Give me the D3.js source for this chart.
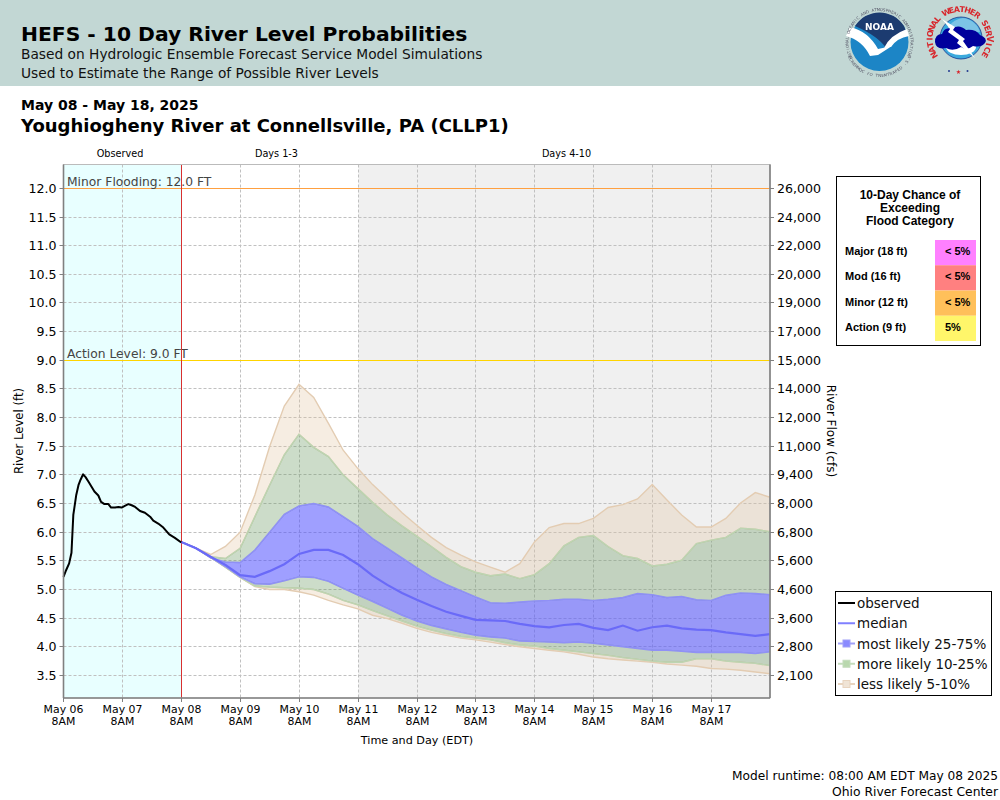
<!DOCTYPE html>
<html><head><meta charset="utf-8">
<script src="https://cdnjs.cloudflare.com/ajax/libs/d3/7.8.5/d3.min.js"></script>
<style>html,body{margin:0;padding:0;background:#fff}svg{display:block}text{font-family:"DejaVu Sans",sans-serif}</style>
</head><body><div id="c"></div>
<script>
const levelTicks=[12,11.5,11,10.5,10,9.5,9,8.5,8,7.5,7,6.5,6,5.5,5,4.5,4,3.5];
const flowLabels=["26,000","24,000","22,000","20,000","19,000","17,000","15,000","14,000","12,000","11,000","9,400","8,000","6,800","5,600","4,600","3,600","2,800","2,100"];
const dayLabels=["May 06","May 07","May 08","May 09","May 10","May 11","May 12","May 13","May 14","May 15","May 16","May 17"];
const dayHours=[0,24,48,72,96,120,144,168,192,216,240,264];
const obsHours=[0,1.1,2.3,3.25,4,5.2,6.1,7,8,9,10.2,11.5,12.6,14.2,15.3,16.7,18.3,19.4,21,22.4,23.7,25,26.4,27.8,29.2,31.2,33.2,35.3,36.6,38.6,40.7,43.1,45.4,48];
const obsLevels=[5.22,5.34,5.455,5.64,6.30,6.65,6.82,6.92,7.01,6.96,6.88,6.79,6.71,6.64,6.53,6.49,6.49,6.43,6.43,6.44,6.43,6.46,6.49,6.47,6.44,6.37,6.34,6.27,6.2,6.15,6.08,5.96,5.90,5.82];
const fcstHours=[48,54,60,66,72,78,84,90,96,102,108,114,120,126,132,138,144,150,156,162,168,174,180,186,192,198,204,210,216,222,228,234,240,246,252,258,264,270,276,282,288];
const lessHigh=[5.83,5.72,5.61,5.75,6.0,6.65,7.49,8.2,8.58,8.35,7.9,7.43,7.11,6.83,6.59,6.34,6.12,5.91,5.73,5.60,5.48,5.39,5.30,5.45,5.83,6.08,6.15,6.15,6.24,6.43,6.48,6.58,6.83,6.56,6.30,6.09,6.09,6.24,6.51,6.69,6.61];
const moreHigh=[5.83,5.72,5.57,5.54,5.72,6.27,6.82,7.35,7.71,7.48,7.32,7.0,6.76,6.52,6.30,6.11,5.93,5.75,5.56,5.40,5.30,5.24,5.27,5.19,5.26,5.45,5.76,5.91,5.94,5.75,5.59,5.54,5.41,5.44,5.51,5.80,5.86,5.91,6.07,6.05,6.01];
const likelyHigh=[5.83,5.72,5.55,5.48,5.47,5.69,6.0,6.31,6.46,6.50,6.44,6.27,6.10,5.89,5.72,5.55,5.38,5.22,5.09,4.98,4.87,4.77,4.76,4.78,4.80,4.81,4.83,4.83,4.81,4.83,4.86,4.93,4.91,4.86,4.88,4.82,4.81,4.90,4.94,4.93,4.91];
const median=[5.83,5.72,5.57,5.43,5.25,5.22,5.32,5.44,5.62,5.69,5.69,5.60,5.44,5.24,5.08,4.94,4.82,4.71,4.61,4.54,4.47,4.46,4.45,4.40,4.36,4.34,4.38,4.40,4.33,4.29,4.37,4.28,4.34,4.37,4.32,4.30,4.29,4.25,4.22,4.19,4.22];
const likelyLow=[5.83,5.72,5.56,5.40,5.22,5.10,5.09,5.15,5.22,5.21,5.14,5.02,4.90,4.79,4.67,4.55,4.45,4.37,4.31,4.25,4.20,4.17,4.15,4.10,4.09,4.08,4.07,4.08,4.06,4.03,4.0,3.97,3.94,3.94,3.92,3.90,3.90,3.90,3.90,3.88,3.91];
const moreLow=[5.83,5.72,5.56,5.39,5.21,5.06,5.04,5.03,5.02,5.0,4.92,4.81,4.73,4.63,4.54,4.45,4.36,4.29,4.23,4.18,4.15,4.12,4.07,4.03,4.01,3.97,3.94,3.91,3.88,3.85,3.81,3.78,3.75,3.73,3.73,3.79,3.79,3.75,3.73,3.71,3.67];
const lessLow=[5.83,5.72,5.56,5.39,5.21,5.05,5.0,5.0,4.96,4.90,4.81,4.73,4.66,4.55,4.49,4.41,4.32,4.25,4.20,4.15,4.12,4.08,4.04,4.00,3.97,3.94,3.91,3.87,3.82,3.79,3.77,3.75,3.73,3.70,3.68,3.66,3.62,3.61,3.59,3.56,3.53];
const chanceRows=["Major (18 ft)","Mod (16 ft)","Minor (12 ft)","Action (9 ft)"];
const chanceVals=["< 5%","< 5%","< 5%","5%"];
const chanceCols=["#ff80ff","#ff8080","#ffc05a","#fff66a"];
const legendNames=["observed","median","most likely 25-75%","more likely 10-25%","less likely 5-10%"];

const svg=d3.select("#c").append("svg").attr("width",1000).attr("height",800);
const L=63.5,R=770,T=164.5,B=698;
const x=d3.scaleLinear().domain([0,288]).range([L,R]);
const y=d3.scaleLinear().domain([3.5,12]).range([675.4,188.4]);
const cx=v=>Math.floor(x(v)+.3)+.5, cy=v=>Math.floor(y(v))+.5;

svg.append("rect").attr("width",1000).attr("height",86).attr("fill","#c2d7d4");
const txt=(t,xx,yy,size,o={})=>svg.append("text").attr("x",xx).attr("y",yy).attr("font-size",size)
  .attr("font-weight",o.w||"normal").attr("fill",o.c||"#000").attr("text-anchor",o.a||"start")
  .style("font-family",o.f||null).text(t);
txt("HEFS - 10 Day River Level Probabilities",21,41,20.3,{w:"bold"});
txt("Based on Hydrologic Ensemble Forecast Service Model Simulations",21,59,13.75,{c:"#111"});
txt("Used to Estimate the Range of Possible River Levels",21,78,13.75,{c:"#111"});
txt("May 08 - May 18, 2025",21,110,14,{w:"bold"});
txt("Youghiogheny River at Connellsville, PA (CLLP1)",21,132,18,{w:"bold"});
txt("Observed",120,157,9.7,{a:"middle"});
txt("Days 1-3",276.5,157,9.7,{a:"middle"});
txt("Days 4-10",566.5,157,9.7,{a:"middle"});

// logos
svg.append("defs").append("filter").attr("id","soft").append("feGaussianBlur").attr("stdDeviation",0.3);
const ring=(g,s,ox,oy,r,startDeg,stepDeg,size,fill,bold,inward)=>{
  [...s].forEach((ch,i)=>{ if(ch===" ")return;
    const a=startDeg+i*stepDeg, rad=a*Math.PI/180;
    const px=ox+r*Math.sin(rad), py=oy-r*Math.cos(rad);
    g.append("text").attr("transform",`translate(${px},${py}) rotate(${inward?a+180:a})`).attr("text-anchor","middle")
      .attr("font-size",size).attr("font-weight",bold?"bold":"normal").attr("fill",fill).text(ch);
  });
};
const noaa=svg.append("g").attr("filter","url(#soft)");
noaa.append("circle").attr("cx",879.5).attr("cy",42).attr("r",29).attr("fill","#1a85c6");
noaa.append("path").attr("d","M855 26 a29 29 0 0 1 49 0 l3 8 q-12 2 -21 14 q-8 -12 -31 -22 z").attr("fill","#1e3a70");
noaa.append("path").attr("d","M850 27 q18 4 28 22 l14 -3 l-14 9 l-8 1 q-8 -16 -24 -20 z M884 48 q6 -13 23 -19 l2 7 q-12 2 -18 11 z").attr("fill","#fff");
noaa.append("text").attr("x",879.5).attr("y",30).attr("text-anchor","middle").attr("font-size",9).attr("font-weight","bold").attr("fill","#fff").text("NOAA");
ring(noaa,"NATIONAL OCEANIC AND ATMOSPHERIC ADMINISTRATION",879.5,42,31,-118,5.05,4,"#556",false,false);
ring(noaa,"U.S. DEPARTMENT OF COMMERCE",879.5,42,35,-244,4.9,4,"#556",false,true);
const nws=svg.append("g").attr("filter","url(#soft)");
nws.append("circle").attr("cx",961).attr("cy",38).attr("r",21).attr("fill","#3aa9dc").attr("stroke","#1a3a90").attr("stroke-width",0.8);
nws.append("path").attr("d","M963 18 a20 20 0 0 1 17 14 l-34 0 a20 20 0 0 1 17 -14 z").attr("fill","#7cc4e6");
nws.append("ellipse").attr("cx",961).attr("cy",47).attr("rx",15).attr("ry",8).attr("fill","#fff");
nws.append("path").attr("d","M935 42 q0 -8 7 -8 q2 -7 10 -6 q8 -4 14 2 q10 -1 14 5 q8 3 5 8 q-4 5 -12 3 q-6 5 -12 1 q-8 5 -15 1 q-10 2 -11 -6 z").attr("fill","#00009c");
nws.append("path").attr("d","M942 19 l13 8 l-2 3 l12 9 l-2 2 l12 17 l-18 -15 l2 -3 l-11 -8 l2 -3 z").attr("fill","#fff");
ring(nws,"NATIONAL WEATHER SERVICE",959.5,39,27,-122,10.6,8,"#d8262c",true,false);
nws.append("text").attr("x",958.5).attr("y",74).attr("text-anchor","middle").attr("font-size",6).attr("fill","#d8262c").text("★");
nws.append("circle").attr("cx",949).attr("cy",71).attr("r",1).attr("fill","#223a90");
nws.append("circle").attr("cx",967.5).attr("cy",71).attr("r",1).attr("fill","#223a90");

// backgrounds
svg.append("rect").attr("x",L).attr("y",T).attr("width",cx(48)-L).attr("height",B-T).attr("fill","#e8ffff");
svg.append("rect").attr("x",cx(120)).attr("y",T).attr("width",R-cx(120)).attr("height",B-T).attr("fill","#f0f0f0");

// grid
const grid=svg.append("g").attr("stroke","#c0c0c0").attr("stroke-dasharray","3,2");
grid.selectAll(".h").data(levelTicks).join("line").attr("x1",L).attr("x2",R).attr("y1",cy).attr("y2",cy);
grid.selectAll(".v").data(dayHours.slice(1)).join("line").attr("y1",T).attr("y2",B).attr("x1",cx).attr("x2",cx);

// bands
const band=(hi,lo,fill,stroke)=>{
  const a=d3.area().x((d,i)=>x(fcstHours[i])).y0((d,i)=>y(lo[i])).y1(d=>y(d));
  svg.append("path").attr("d",a(hi)).attr("fill",fill);
  const l=d3.line().x((d,i)=>x(fcstHours[i])).y(d=>y(d));
  [hi,lo].forEach(s=>svg.append("path").attr("d",l(s)).attr("fill","none").attr("stroke",stroke).attr("stroke-width",1.4));
};
const tanF="rgba(225,195,160,0.30)",greenF="rgba(110,155,100,0.35)",blueF="rgba(80,80,255,0.55)";
band(lessHigh,moreHigh,tanF,"#e3ccb2");
band(moreLow,lessLow,tanF,"#e3ccb2");
band(moreHigh,likelyHigh,greenF,"#bcd5b2");
band(likelyLow,moreLow,greenF,"#bcd5b2");
band(likelyHigh,likelyLow,blueF,"#9090f6");

// thresholds
svg.append("line").attr("x1",L).attr("x2",R).attr("y1",cy(12)).attr("y2",cy(12)).attr("stroke","#ffa040");
svg.append("line").attr("x1",L).attr("x2",R).attr("y1",cy(9)).attr("y2",cy(9)).attr("stroke","#ffd400");
txt("Minor Flooding: 12.0 FT",67,186,12.3,{c:"#444"});
txt("Action Level: 9.0 FT",67,358,12.3,{c:"#444"});

// now line
svg.append("line").attr("x1",cx(48)).attr("x2",cx(48)).attr("y1",T).attr("y2",B).attr("stroke","#d83030");

// series
const medLine=d3.line().x((d,i)=>x(fcstHours[i])).y(d=>y(d));
svg.append("path").attr("d",medLine(median)).attr("fill","none").attr("stroke","#6a6af8").attr("stroke-width",2.2);
const obsLine=d3.line().x((d,i)=>x(obsHours[i])).y(d=>y(d));
svg.append("path").attr("d",obsLine(obsLevels)).attr("fill","none").attr("stroke","#000").attr("stroke-width",2).attr("stroke-linejoin","round");

// frame + axes
svg.append("rect").attr("x",L).attr("y",T).attr("width",R-L).attr("height",B-T).attr("fill","none").attr("stroke","#bbb");
const styleAxis=g=>{g.selectAll("path.domain").attr("stroke","#808080").attr("stroke-width",1.6);
  g.selectAll(".tick line").attr("stroke","#808080");
  g.selectAll("text").style("font-family",'"DejaVu Sans",sans-serif').attr("fill","#000");};
const la=svg.append("g").attr("transform",`translate(${L},0)`).call(d3.axisLeft(y).tickValues(levelTicks).tickSize(4).tickSizeOuter(0).tickPadding(3).tickFormat(d3.format(".1f")));
la.select("path.domain").attr("d",`M0,${T}V${B}`);
la.selectAll(".tick").attr("transform",d=>`translate(0,${cy(d)})`);
la.call(styleAxis).selectAll("text").attr("font-size",12.6);
const ra=svg.append("g").attr("transform",`translate(${R},0)`).call(d3.axisRight(y).tickValues(levelTicks).tickSize(4).tickSizeOuter(0).tickPadding(3).tickFormat((d,i)=>flowLabels[i]));
ra.select("path.domain").attr("d",`M0,${T}V${B}`);
ra.selectAll(".tick").attr("transform",d=>`translate(0,${cy(d)})`);
ra.call(styleAxis).selectAll("text").attr("font-size",12.6);
const ba=svg.append("g").attr("transform",`translate(0,${B})`).call(d3.axisBottom(x).tickValues(dayHours).tickSize(4).tickSizeOuter(0).tickPadding(3).tickFormat(""));
ba.select("path.domain").attr("d",`M${L},0H${R}`);
ba.selectAll(".tick").attr("transform",d=>`translate(${cx(d)},0)`);
ba.call(styleAxis);
ba.selectAll(".tick text").each(function(d,i){
  const t=d3.select(this).attr("font-size",10.9).text(null);
  t.append("tspan").attr("x",0).attr("dy","0.71em").text(dayLabels[i]);
  t.append("tspan").attr("x",0).attr("dy","1.12em").text("8AM");
});
txt("Time and Day (EDT)",417,744,11.2,{a:"middle"});
svg.append("text").attr("transform","translate(22.5,431) rotate(-90)").attr("text-anchor","middle").attr("font-size",11.7).text("River Level (ft)");
svg.append("text").attr("transform","translate(827,431) rotate(90)").attr("text-anchor","middle").attr("font-size",12).text("River Flow (cfs)");

// chance table
const arial="'Liberation Sans',sans-serif";
svg.append("rect").attr("x",836.5).attr("y",176.5).attr("width",144).attr("height",169).attr("fill","#fff").attr("stroke","#000");
["10-Day Chance of","Exceeding","Flood Category"].forEach((s,i)=>txt(s,910,199+i*13,12,{w:"bold",a:"middle",f:arial}));
const rowY=d3.scaleBand().domain(chanceRows).range([240,341]);
chanceRows.forEach((r,i)=>{
  svg.append("rect").attr("x",935).attr("y",rowY(r)).attr("width",41).attr("height",rowY.bandwidth()).attr("fill",chanceCols[i]);
  txt(r,845,rowY(r)+15,11,{w:"bold",f:arial});
  txt(chanceVals[i],945,rowY(r)+15,11,{w:"bold",f:arial});
});

// legend
svg.append("rect").attr("x",835.5).attr("y",591.5).attr("width",156).attr("height",104).attr("fill","#fff").attr("stroke","#000");
const legY=d3.scalePoint().domain(legendNames).range([603,684]);
const legStyles=[{c:"#000",sq:null},{c:"#8080ff",sq:null},{c:"#a0a0f8",sq:"#8a8aff"},{c:"#c4dcbc",sq:"#b9d8ae"},{c:"#e8d4bf",sq:"#f0e4d6"}];
legendNames.forEach((n,i)=>{
  const yy=legY(n),s=legStyles[i];
  svg.append("line").attr("x1",838).attr("x2",855).attr("y1",yy).attr("y2",yy).attr("stroke",s.c).attr("stroke-width",2);
  if(s.sq) svg.append("rect").attr("x",843).attr("y",yy-3.5).attr("width",7).attr("height",7).attr("fill",s.sq).attr("stroke",s.c);
  txt(n,857,yy+5,13.5,{c:"#111"});
});

// footer
txt("Model runtime: 08:00 AM EDT May 08 2025",998,780,12.2,{a:"end"});
txt("Ohio River Forecast Center",998,796,12.35,{a:"end"});
</script></body></html>
